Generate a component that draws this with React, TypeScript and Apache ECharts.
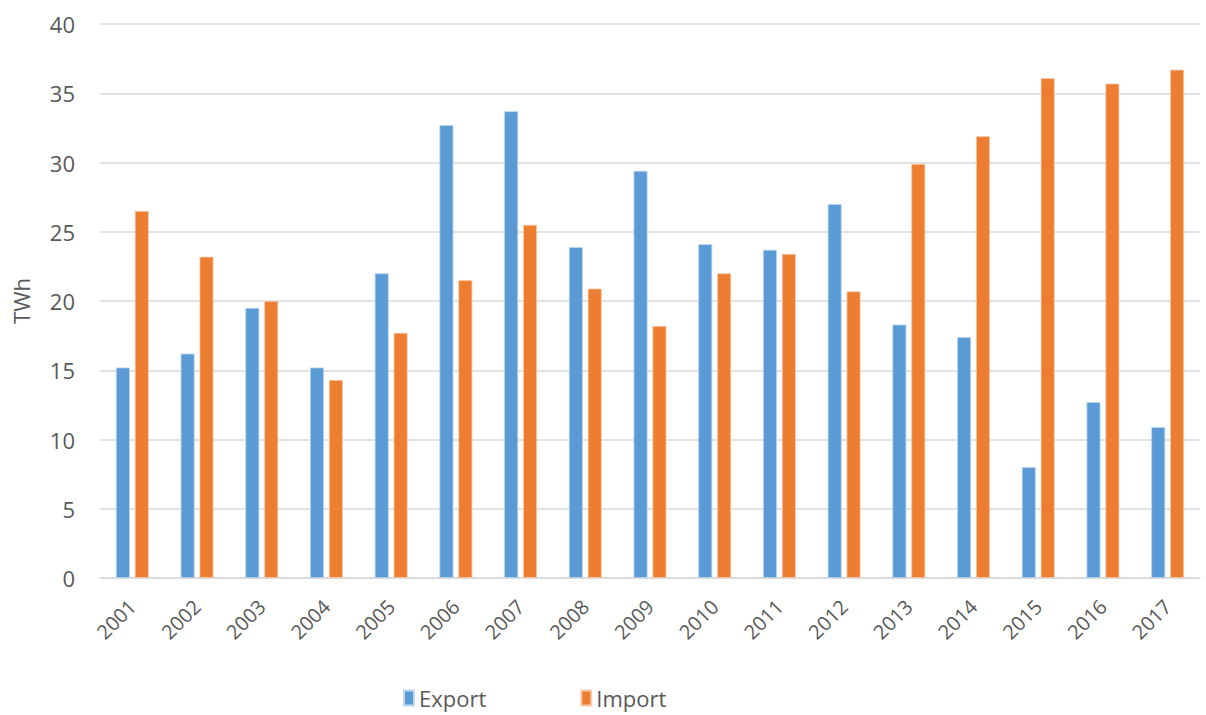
import React, { useEffect, useRef } from "react";
import * as echarts from "echarts";

const years = ["2001","2002","2003","2004","2005","2006","2007","2008","2009","2010","2011","2012","2013","2014","2015","2016","2017"];
const exportValues = [15.2, 16.2, 19.5, 15.2, 22.0, 32.7, 33.7, 23.9, 29.4, 24.1, 23.7, 27.0, 18.3, 17.4, 8.0, 12.7, 10.9];
const importValues = [26.5, 23.2, 20.0, 14.3, 17.7, 21.5, 25.5, 20.9, 18.2, 22.0, 23.4, 20.7, 29.9, 31.9, 36.1, 35.7, 36.7];
const seriesNames = ["Export", "Import"];
const yTicks = { min: 0, max: 40, interval: 5 };

const FONT = "'Open Sans', 'Noto Sans', sans-serif";
const TEXT = "#595959";

export default function App() {
  const ref = useRef<HTMLDivElement>(null);
  useEffect(() => {
    document.body.style.margin = "0";
    const chart = echarts.init(ref.current!, null, { renderer: "svg" });
    chart.setOption({
      animation: false,
      backgroundColor: "#ffffff",
      textStyle: { fontFamily: FONT },
      grid: { left: 100, right: 6, top: 24, bottom: 137, containLabel: false, outerBoundsMode: "none" },
      legend: {
        data: seriesNames,
        left: 403,
        top: 686,
        icon: "rect",
        itemWidth: 10,
        itemHeight: 15,
        itemGap: 94,
        padding: 0,
        textStyle: { color: TEXT, fontSize: 22, lineHeight: 24, fontFamily: FONT },
      },
      xAxis: {
        type: "category",
        data: years,
        axisLine: { show: true, lineStyle: { color: "#D9D9D9", width: 1.5 } },
        axisTick: { show: false },
        axisLabel: { rotate: 45, color: TEXT, fontSize: 20, fontFamily: FONT, margin: 25, interval: 0 },
      },
      yAxis: {
        type: "value",
        min: yTicks.min,
        max: yTicks.max,
        interval: yTicks.interval,
        name: "TWh",
        nameLocation: "middle",
        nameGap: 68,
        nameRotate: 90,
        nameTextStyle: { color: TEXT, fontSize: 22, fontFamily: FONT },
        axisLine: { show: false },
        axisTick: { show: false },
        axisLabel: { color: TEXT, fontSize: 22, fontFamily: FONT, margin: 25 },
        splitLine: { lineStyle: { color: "#D9D9D9", width: 1.5 } },
      },
      series: [
        {
          name: seriesNames[0],
          type: "bar",
          data: exportValues,
          barWidth: 14,
          barGap: "35%",
          itemStyle: { color: "#5B9BD5", borderColor: "#BDD7EE", borderWidth: 0.8 },
        },
        {
          name: seriesNames[1],
          type: "bar",
          data: importValues,
          barWidth: 14,
          barGap: "35%",
          itemStyle: { color: "#ED7D31", borderColor: "#F8CBAD", borderWidth: 0.8 },
        },
      ],
    });
    return () => chart.dispose();
  }, []);
  return <div ref={ref} style={{ width: 1206, height: 715 }} />;
}
